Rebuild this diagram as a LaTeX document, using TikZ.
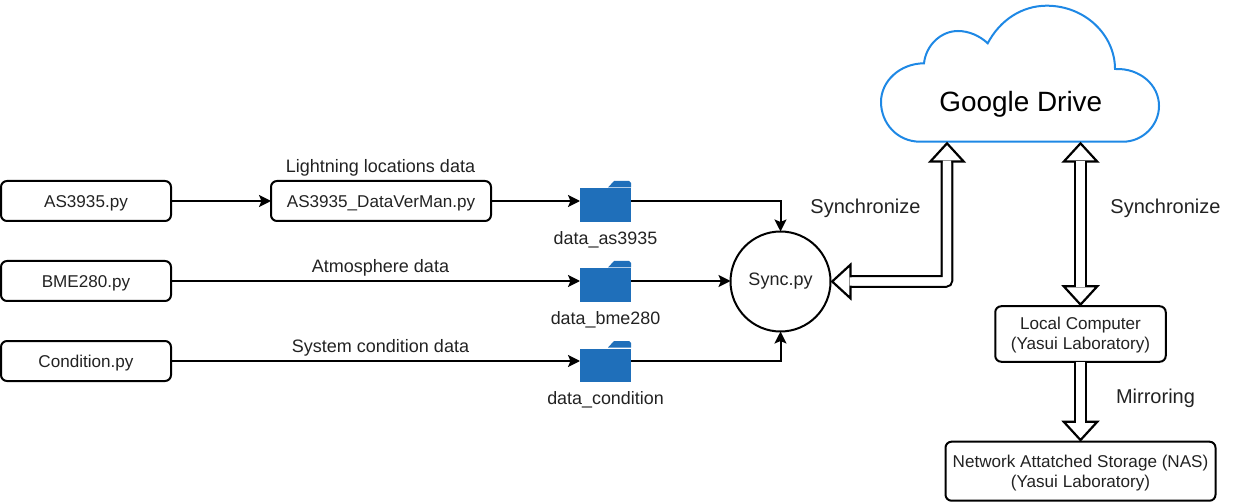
\documentclass[tikz,border=0pt]{standalone}
\usepackage{fontspec}
\setmainfont{Liberation Sans}
\usetikzlibrary{arrows.meta,calc}
\definecolor{txt}{HTML}{222222}
\definecolor{clouds}{HTML}{1E88E5}
\definecolor{foldc}{HTML}{1F6FBA}
\newcommand{\twolines}[2]{\raisebox{-6.3pt}[0pt][0pt]{\begin{tabular}[c]{@{}c@{}}#1\\#2\end{tabular}}}
\tikzset{
  boxbase/.style={draw=black,line width=2pt,rounded corners=6pt,minimum height=40pt,inner sep=0pt,outer sep=0pt,text=txt,font=\fontsize{17.1}{20}\selectfont},
  box/.style={boxbase,execute at begin node={\rule{0pt}{17pt}}},
  lbl/.style={inner sep=0pt,text=txt,font=\fontsize{18}{20}\selectfont},
  fname/.style={inner sep=0pt,text=txt,font=\fontsize{17.9}{20}\selectfont},
  big/.style={inner sep=0pt,text=txt,font=\fontsize{20}{22}\selectfont},
  flow/.style={draw=black,line width=2pt,-{Stealth[length=12pt,width=12pt,inset=2.5pt]}},
  bighead/.tip={Triangle[open,fill=white,length=21pt,width=38pt,line width=2.2pt]},
  block/.style={draw=black,line width=2.2pt,double=white,double distance=8.4pt,rounded corners=2pt},
  patch/.style={draw=white,line width=8.4pt,rounded corners=2pt},
  folder/.style={inner sep=0pt,outer sep=0pt,minimum width=51pt,minimum height=41pt,
    path picture={
      \fill[foldc] ($(path picture bounding box.south west)$) rectangle ($(path picture bounding box.north east)+(0,7.5)$);
      \fill[foldc] ($(path picture bounding box.north east)+(-23,6.5)$) -- ($(path picture bounding box.north east)+(-17,0)$) -- ($(path picture bounding box.north east)+(-2,0)$) -- ($(path picture bounding box.north east)+(0,2)$) -- ($(path picture bounding box.north east)+(0,6.5)$) -- cycle;
    }},
}
\begin{document}
\begin{tikzpicture}[x=1pt,y=-1pt]
\useasboundingbox (0,0) rectangle (1233,502);
% cloud
\draw[clouds,line width=2pt,fill=white] (920,141.7) .. controls (897,141.7) and (881,123) .. (881,102) .. controls (881,81) and (900,63.5) .. (924,63.3) .. controls (926,45) and (941,31) .. (958,31) .. controls (969,31) and (980,36) .. (987.7,43.3) .. controls (1000,20) and (1022,5.7) .. (1046.7,5.7) .. controls (1085,5.7) and (1115,35) .. (1115,69) .. controls (1140,68) and (1159,85) .. (1159,106) .. controls (1159,125) and (1143,141.7) .. (1123,141.7) -- cycle;
\node[inner sep=0pt,text=black,font=\fontsize{27.9}{30}\selectfont] (gd) at (1020.8,104) {Google Drive};
\coordinate (cloudA) at (947,141.7);
\coordinate (cloudB) at (1080.5,141.7);
% boxes
\node[box,minimum width=170pt] (as) at (86,201) {AS3935.py};
\node[box,minimum width=220pt] (dv) at (381,201) {AS3935\_DataVerMan.py};
\node[box,minimum width=170pt] (bme) at (86,281) {BME280.py};
\node[box,minimum width=170pt] (cond) at (86,361) {Condition.py};
\node[folder] (f1) at (605.5,201.5) {};
\node[folder] (f2) at (605.5,281.5) {};
\node[folder] (f3) at (605.5,361.5) {};
\node[draw=black,line width=2pt,circle,minimum size=100pt,inner sep=0pt,outer sep=0pt,text=txt,font=\fontsize{18}{20}\selectfont] (sync) at (780.5,281.5) {Sync.py};
\node[boxbase,minimum width=170.5pt,minimum height=55.5pt] (lc) at (1080.5,334) {\twolines{Local Computer}{(Yasui Laboratory)}};
\node[boxbase,minimum width=270pt,minimum height=59pt] (nas) at (1080.5,471.2) {\twolines{Network Attatched Storage (NAS)}{(Yasui Laboratory)}};
% labels
\node[lbl] (l1) at (380.5,167.5) {Lightning locations data};
\node[lbl] (l2) at (380.5,267.5) {Atmosphere data};
\node[lbl] (l3) at (380.5,347.5) {System condition data};
\node[fname] (n1) at (605.5,239.5) {data\_as3935};
\node[fname] (n2) at (605.5,319.5) {data\_bme280};
\node[fname] (n3) at (605.5,399.5) {data\_condition};
\node[big] (s1) at (865.5,208.5) {Synchronize};
\node[big] (s2) at (1165.5,208.5) {Synchronize};
\node[big] (m1) at (1155.5,398.5) {Mirroring};
% flows
\draw[flow] (as) -- (dv);
\draw[flow] (dv) -- (dv.east -| f1.west);
\draw[flow] (bme) -- (bme.east -| f2.west);
\draw[flow] (cond) -- (cond.east -| f3.west);
\draw[flow] (f1.east |- as.east) -| (sync.north);
\draw[flow] (f2.east |- bme.east) -- (bme.east -| sync.west);
\draw[flow] (f3.east |- cond.east) -| (sync.south);
% block arrows
\draw[block,{bighead}-{bighead}] (sync.east) -| (cloudA);
\draw[patch,shorten <=19pt,shorten >=19pt] (sync.east) -| (cloudA);
\draw[block,{bighead}-{bighead}] (cloudB) -- (lc.north);
\draw[patch,shorten <=19pt,shorten >=19pt] (cloudB) -- (lc.north);
\draw[block,-{bighead}] (lc.south) -- (nas.north);
\draw[patch,shorten <=1.5pt,shorten >=19pt] (lc.south) -- (nas.north);
\end{tikzpicture}
\end{document}
